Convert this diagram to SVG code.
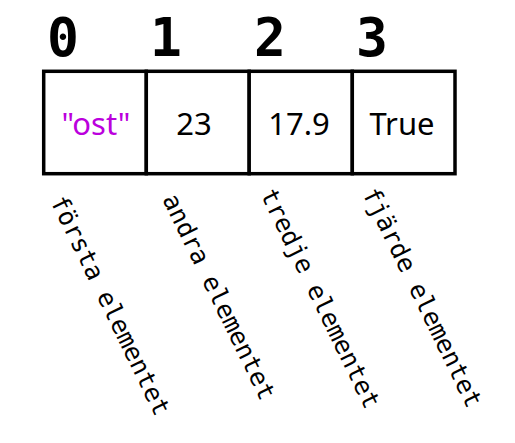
<svg xmlns="http://www.w3.org/2000/svg" width="515" height="443" viewBox="0 0 515 443">
<style>
.idx{font-family:"DejaVu Sans Mono","Liberation Mono",monospace;font-weight:bold;font-size:53px;fill:#000;text-anchor:middle}
.cell{fill:#fff;stroke:#000;stroke-width:3.5}
.val{font-family:"Noto Sans","Open Sans",sans-serif;font-size:31px;fill:#000;text-anchor:middle}
.str{fill:#bb00dd}
.lbl{font-family:"DejaVu Sans Mono","Liberation Mono",monospace;font-size:25px;fill:#000}
</style>
<rect x="0" y="0" width="515" height="443" fill="#fff"/>
<g id="cell0">
<rect class="cell" x="43.7" y="71.3" width="102.6" height="102.4"/>
<text class="idx" x="63" y="56">0</text>
<text class="val str" x="96" y="135">"ost"</text>
<text class="lbl" transform="translate(50,201) rotate(64)">första elementet</text>
</g>
<g id="cell1">
<rect class="cell" x="146.3" y="71.3" width="102.9" height="102.4"/>
<text class="idx" x="166" y="56">1</text>
<text class="val" x="194" y="135">23</text>
<text class="lbl" transform="translate(162,199) rotate(64)">andra elementet</text>
</g>
<g id="cell2">
<rect class="cell" x="249.2" y="71.3" width="103.1" height="102.4"/>
<text class="idx" x="270" y="56">2</text>
<text class="val" x="299" y="135">17.9</text>
<text class="lbl" transform="translate(260,194) rotate(64)">tredje elementet</text>
</g>
<g id="cell3">
<rect class="cell" x="352.3" y="71.3" width="102.7" height="102.4"/>
<text class="idx" x="372" y="56">3</text>
<text class="val" x="402" y="135">True</text>
<text class="lbl" transform="translate(362,193) rotate(64)">fjärde elementet</text>
</g>
<g id="connectors"></g>
</svg>
